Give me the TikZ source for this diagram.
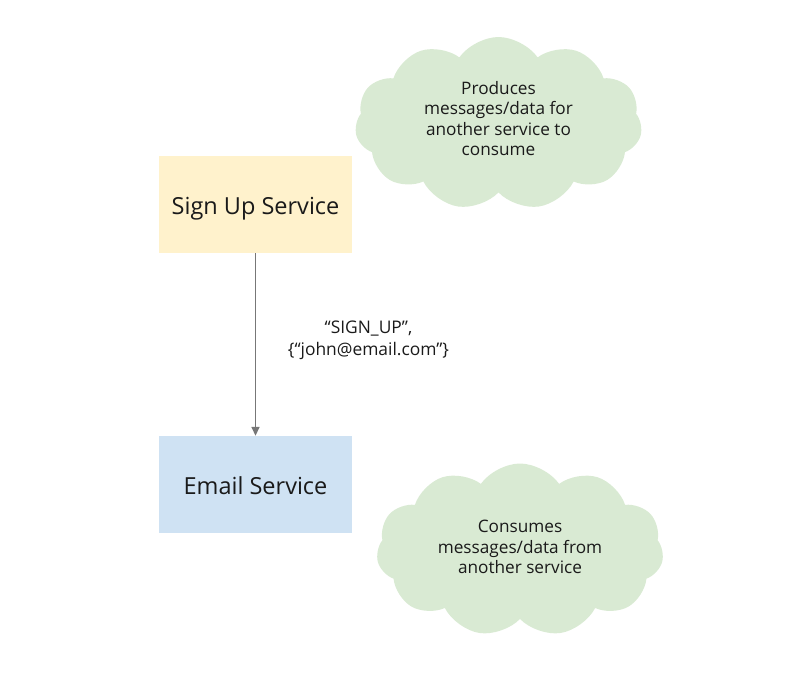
\documentclass[tikz,border=0pt]{standalone}
\usepackage{fontspec}
\setmainfont{Open Sans}
\usetikzlibrary{shapes.symbols,arrows.meta}
\definecolor{signfill}{HTML}{FFF2CC}
\definecolor{emailfill}{HTML}{CFE2F3}
\definecolor{cloudfill}{HTML}{D9EAD3}
\definecolor{arrowgray}{HTML}{777777}
\definecolor{txt}{HTML}{1A1A1A}
\tikzset{
  svcbox/.style={fill=#1, draw=none, minimum width=193pt, minimum height=97pt, inner sep=0pt,
    text height=26pt, text depth=6pt, font=\fontsize{23.5}{26}\selectfont, text=txt},
  cloudnote/.style={cloud, cloud puffs=11, cloud puff arc=110, cloud ignores aspect, fill=cloudfill, draw=none,
    minimum width=287pt, minimum height=173pt, inner sep=0pt},
  cloudtext/.style={align=center, inner sep=0pt, font=\fontsize{17.2}{20.5}\selectfont, text=txt},
  flow/.style={draw=arrowgray, line width=1.6pt, -{Triangle[length=9pt,width=8pt]}},
  msglabel/.style={align=center, font=\fontsize{17.4}{22}\selectfont, text=txt}
}
\begin{document}
\begin{tikzpicture}[x=1pt,y=-1pt]
\useasboundingbox (0,0) rectangle (800,689);
\node[svcbox=signfill] (signup) at (255.5,204.5) {Sign Up Service};
\node[svcbox=emailfill] (email) at (255.5,484.5) {Email Service};
\draw[flow] (signup) -- (email);
\node[msglabel] (msg) at (368.5,340) {“SIGN\_UP”,\\\{“john@email.com”\}};
\node[cloudnote] (c1) at (498.5,123.5) {};
\node[cloudtext] (c1t) at ([yshift=5pt]c1.center) {Produces\\messages/data for\\another service to\\consume};
\node[cloudnote] (c2) at (520,550) {};
\node[cloudtext] (c2t) at ([yshift=3pt]c2.center) {Consumes\\messages/data from\\another service};
\end{tikzpicture}
\end{document}
